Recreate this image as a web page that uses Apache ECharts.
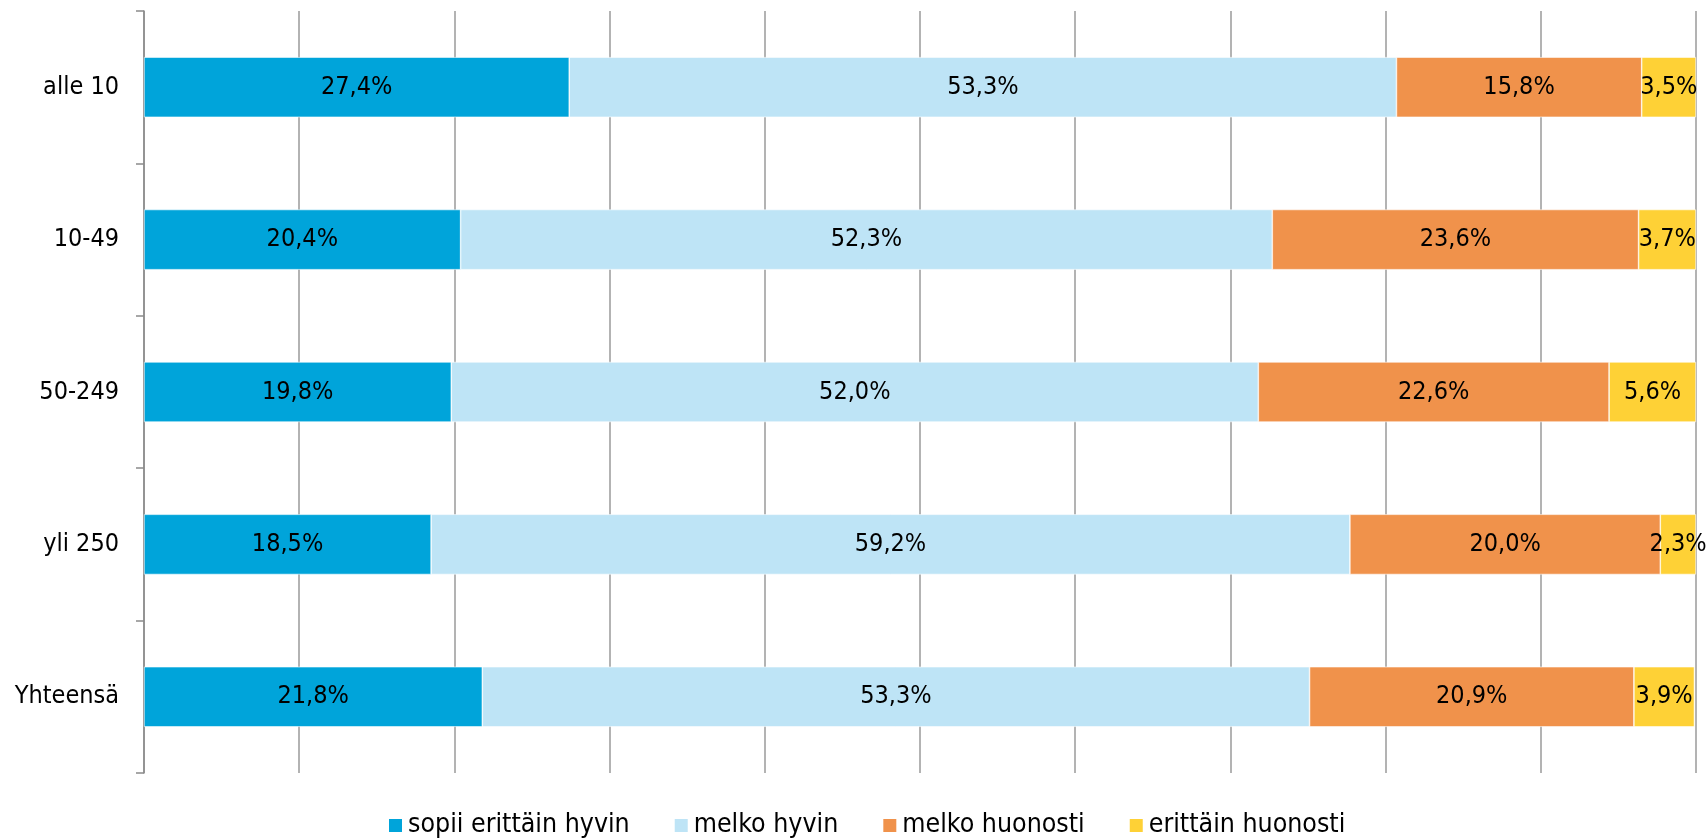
<!DOCTYPE html>
<html>
<head>
<meta charset="utf-8">
<script src="https://cdn.jsdelivr.net/npm/echarts@6/dist/echarts.min.js"></script>
<style>
  html, body { margin: 0; padding: 0; background: #fff; }
  #chart { width: 1708px; height: 839px; }
</style>
</head>
<body>
<div id="chart"></div>
<script>
// Kategoriat (yrityksen koko)
const categories = ['alle 10', '10-49', '50-249', 'yli 250', 'Yhteensä'];

// Sarjat, prosentteina
const seriesNames = ['sopii erittäin hyvin', 'melko hyvin', 'melko huonosti', 'erittäin huonosti'];
const sopiiErittainHyvin = [27.4, 20.4, 19.8, 18.5, 21.8];
const melkoHyvin = [53.3, 52.3, 52.0, 59.2, 53.3];
const melkoHuonosti = [15.8, 23.6, 22.6, 20.0, 20.9];
const erittainHuonosti = [3.5, 3.7, 5.6, 2.3, 3.9];

const colors = ['#00A4DA', '#BEE4F6', '#F0924B', '#FED136'];
const fontFamily = '"DejaVu Sans Condensed", "DejaVu Sans", sans-serif';

const chart = echarts.init(document.getElementById('chart'));

// muotoilu pilkulla: 27,4%
function fmt(p) {
    return p.value.toFixed(1).replace('.', ',') + '%';
}

function makeSeries(name, data, color) {
    return {
        name: name,
        type: 'bar',
        stack: 'total',
        data: data,
        barCategoryGap: '60.5%',
        itemStyle: { color: color, borderColor: '#fff', borderWidth: 0.6 },
        label: {
            show: true,
            position: 'inside',
            formatter: fmt,
            color: '#000',
            fontFamily: fontFamily,
            fontSize: 25
        },
        emphasis: { disabled: true }
    };
}

const option = {
    animation: false,
    grid: { left: 144, right: 12, top: 11, bottom: 66, containLabel: false },
    legend: {
        left: 382,
        top: 807,
        itemWidth: 15,
        itemHeight: 15,
        itemGap: 43,
        icon: 'rect',
        textStyle: { fontFamily: fontFamily, fontSize: 26.5, color: '#000' },
        data: seriesNames
    },
    xAxis: {
        type: 'value',
        min: 0,
        max: 100,
        interval: 10,
        axisLabel: { show: false },
        axisLine: { show: false },
        axisTick: { show: false },
        splitLine: { show: true, lineStyle: { color: '#9a9a9a', width: 1.5 } }
    },
    yAxis: {
        type: 'category',
        inverse: true,
        data: categories,
        axisLine: { show: true, lineStyle: { color: '#8a8a8a', width: 1.5 } },
        axisTick: { show: true, length: 8, lineStyle: { color: '#8a8a8a', width: 1.5 } },
        axisLabel: { margin: 25, color: '#000', fontFamily: fontFamily, fontSize: 25 }
    },
    series: [
        makeSeries(seriesNames[0], sopiiErittainHyvin, colors[0]),
        makeSeries(seriesNames[1], melkoHyvin, colors[1]),
        makeSeries(seriesNames[2], melkoHuonosti, colors[2]),
        makeSeries(seriesNames[3], erittainHuonosti, colors[3])
    ]
};

chart.setOption(option);
</script>
</body>
</html>
